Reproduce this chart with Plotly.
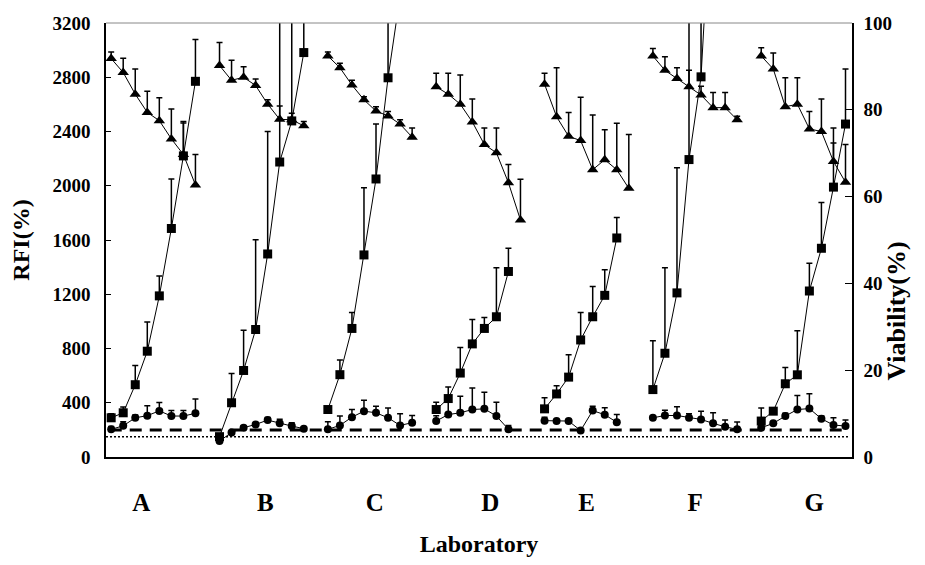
import plotly.graph_objects as go

# ---------------- data ----------------
labs = ["A", "B", "C", "D", "E", "F", "G"]

# RFI (%) - square series, one list of 8 time points per laboratory
square_rfi = [
    [289, 326, 533, 780, 1188, 1685, 2220, 2770],
    [150, 400, 638, 940, 1497, 2175, 2478, 2982],
    [350, 607, 948, 1490, 2050, 2796, 3400, None],
    [350, 431, 619, 834, 948, 1034, 1368, None],
    [355, 465, 589, 863, 1034, 1192, 1615, None],
    [497, 765, 1210, 2193, 2803, 4400, None, None],
    [265, 338, 540, 606, 1224, 1539, 1990, 2455],
]
square_err = [
    [30, 42, 142, 216, 147, 364, 243, 308],
    [20, 216, 297, 662, 903, 1300, 1000, 400],
    [0, 109, 118, 496, 405, 800, 0, None],
    [54, 85, 188, 180, 81, 361, 171, None],
    [81, 61, 164, 203, 224, 188, 151, None],
    [361, 630, 922, 1200, 800, 0, None, None],
    [97, 20, 120, 325, 205, 337, 326, 405],
]

# RFI (%) - circle series
circle_rfi = [
    [204, 230, 289, 305, 340, 302, 302, 322],
    [118, 180, 216, 240, 272, 248, 228, 209],
    [204, 233, 294, 338, 326, 289, 233, 253],
    [265, 313, 326, 350, 355, 302, 204, None],
    [268, 265, 265, 195, 342, 312, 256, None],
    [289, 306, 306, 289, 277, 248, 223, 204],
    [216, 248, 302, 350, 357, 282, 236, 228],
]
circle_err = [
    [20, 30, 20, 73, 61, 41, 41, 105],
    [10, 10, 15, 10, 20, 30, 25, 10],
    [56, 69, 56, 81, 49, 73, 85, 53],
    [40, 110, 122, 159, 122, 102, 29, None],
    [25, 0, 0, 0, 32, 51, 58, None],
    [15, 39, 64, 30, 61, 78, 49, 54],
    [20, 0, 20, 103, 110, 20, 53, 44],
]

# Viability (%) - triangle series (right axis)
viability = [
    [91.8, 88.6, 83.6, 79.4, 77.5, 73.3, 69.7, 62.7],
    [90.2, 86.8, 87.5, 85.6, 81.3, 77.8, 77.7, 76.3],
    [92.4, 89.7, 85.7, 82.3, 79.7, 78.6, 76.7, 73.7],
    [85.3, 83.6, 81.3, 77.2, 72.0, 70.1, 63.2, 54.6],
    [85.9, 78.4, 73.9, 72.9, 66.2, 68.5, 66.2, 61.9],
    [92.4, 89.1, 87.2, 85.3, 83.4, 80.5, 80.5, 77.7],
    [92.4, 89.4, 80.7, 81.3, 75.6, 75.0, 68.1, 63.3],
]
viability_err = [
    [1.5, 3.3, 5.8, 4.9, 5.3, 6.9, 7.6, 7.0],
    [5.3, 4.6, 2.4, 1.5, 1.0, 3.1, 1.5, 1.0],
    [0.9, 1.0, 1.1, 0.7, 1.0, 1.0, 1.0, 2.1],
    [3.1, 4.8, 6.7, 5.3, 3.8, 5.7, 4.2, 9.4],
    [2.5, 11.3, 5.5, 10.0, 12.6, 6.9, 10.7, 12.4],
    [1.7, 3.1, 2.5, 3.8, 2.0, 3.5, 3.5, 0.8],
    [1.9, 3.7, 6.7, 6.1, 4.0, 7.5, 7.7, 8.7],
]

dashed_level = 200   # RFI reference (dashed)
dotted_level = 150   # RFI reference (dotted)

# position of lab labels along the x axis (in slot units)
lab_label_pos = [2.5, 12.8, 21.9, 31.5, 39.5, 48.5, 58.4]

# ---------------- build ----------------
SLOT = 9  # 8 time points + 1 empty slot between laboratories


def flatten(groups):
    xs, ys = [], []
    for g, vals in enumerate(groups):
        for i, v in enumerate(vals):
            xs.append(g * SLOT + i)
            ys.append(v)
        xs.append(g * SLOT + len(vals))
        ys.append(None)
    return xs, ys


def flat_err(groups):
    out = []
    for vals in groups:
        out.extend([0 if v is None else v for v in vals])
        out.append(0)
    return out


FONT = "Liberation Serif"
fig = go.Figure()

common_line = dict(color="black", width=1)
err_style = dict(type="data", symmetric=False, color="black", thickness=1.5, width=3)

x, y = flatten(square_rfi)
e = flat_err(square_err)
fig.add_trace(go.Scatter(
    x=x, y=y, mode="lines+markers", line=common_line, connectgaps=False,
    marker=dict(symbol="square", size=9, color="black"),
    error_y=dict(err_style, array=e, arrayminus=[0] * len(e)),
    showlegend=False))

x, y = flatten(circle_rfi)
e = flat_err(circle_err)
fig.add_trace(go.Scatter(
    x=x, y=y, mode="lines+markers", line=common_line, connectgaps=False,
    marker=dict(symbol="circle", size=8, color="black"),
    error_y=dict(err_style, array=e, arrayminus=[0] * len(e)),
    showlegend=False))

x, y = flatten(viability)
e = flat_err(viability_err)
fig.add_trace(go.Scatter(
    x=x, y=y, yaxis="y2", mode="lines+markers", line=common_line, connectgaps=False,
    marker=dict(symbol="triangle-up", size=10, color="black"),
    error_y=dict(err_style, array=e, arrayminus=[0] * len(e)),
    showlegend=False))

# reference lines
fig.add_shape(type="line", xref="x domain", yref="y", x0=0.005, x1=0.995,
              y0=dashed_level, y1=dashed_level,
              line=dict(color="black", width=3, dash="12px,8px"))
fig.add_shape(type="line", xref="x domain", yref="y", x0=0, x1=0.995,
              y0=dotted_level, y1=dotted_level,
              line=dict(color="black", width=1.5, dash="2px,2px"))
# light top border
fig.add_shape(type="line", xref="paper", yref="paper", x0=0, x1=1, y0=1, y1=1,
              line=dict(color="#888888", width=1))

# right axis title (placed lower than centre, as in the reference)
fig.add_annotation(text="Viability(%)", xref="paper", yref="paper",
                   x=1.0603, y=0.3375, xanchor="center", yanchor="middle",
                   textangle=-90, showarrow=False,
                   font=dict(family=FONT, size=26, weight="bold", color="black"))

fig.update_layout(
    width=925, height=565,
    margin=dict(l=106, r=73, t=23, b=106),
    paper_bgcolor="white", plot_bgcolor="white",
    font=dict(family=FONT, color="black"),
    xaxis=dict(
        range=[-0.43, 61.54], showgrid=False, zeroline=False,
        showline=True, linecolor="black", linewidth=1.5,
        tickmode="array", tickvals=lab_label_pos, ticktext=labs, ticks="",
        ticklabelstandoff=22,
        tickfont=dict(family=FONT, size=25, weight="bold"),
        title=dict(text="Laboratory", font=dict(family=FONT, size=24, weight="bold"),
                   standoff=20),
    ),
    yaxis=dict(
        range=[0, 3200], dtick=400, showgrid=False, zeroline=False,
        showline=True, linecolor="black", linewidth=1.5,
        ticks="inside", ticklen=5, tickcolor="black",
        ticklabelstandoff=10,
        tickfont=dict(family=FONT, size=19, weight="bold"),
        title=dict(text="RFI(%)", font=dict(family=FONT, size=24, weight="bold"),
                   standoff=16),
    ),
    yaxis2=dict(
        overlaying="y", side="right", range=[0, 100], dtick=20,
        showgrid=False, zeroline=False,
        showline=True, linecolor="black", linewidth=1.5,
        ticks="inside", ticklen=7, tickcolor="black",
        ticklabelstandoff=6,
        tickfont=dict(family=FONT, size=19, weight="bold"),
    ),
)

fig.write_html("out.html")
